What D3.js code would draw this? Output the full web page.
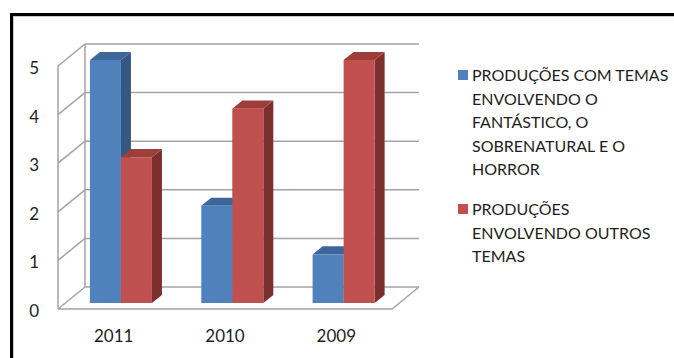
<!DOCTYPE html>
<html>
<head>
<meta charset="utf-8">
<script src="https://cdn.jsdelivr.net/npm/d3@7"></script>
<style>
  html, body { margin: 0; padding: 0; background: #fff; }
  svg { display: block; }
  text { font-family: Lato, "Open Sans", sans-serif; }
</style>
</head>
<body>
<script>
// ---- data ----
const categories = ["2011", "2010", "2009"];
const seriesKeys = ["fantastico", "outros"];
const fantastico = [5, 2, 1];
const outros = [3, 4, 5];
const yTicks = [0, 1, 2, 3, 4, 5];
const legendFantastico = ["PRODUÇÕES COM TEMAS", "ENVOLVENDO O", "FANTÁSTICO, O", "SOBRENATURAL E O", "HORROR"];
const legendOutros = ["PRODUÇÕES", "ENVOLVENDO OUTROS", "TEMAS"];

// ---- styles ----
const colors = {
  fantastico: { front: "#4f81bd", top: "#3d679a", side: "#355781" },
  outros: { front: "#c0504d", top: "#9e3d3a", side: "#7c302e" }
};
const gridColor = "#a3a3a3";
const textColor = "#1e1e1e";

const W = 674, H = 358;
const svg = d3.select("body").append("svg").attr("width", W).attr("height", H);

// frame border
svg.append("path").attr("d", "M11.5,358 V14.5 H674").attr("fill", "none")
  .attr("stroke", "#000").attr("stroke-width", 3);
svg.append("path").attr("d", "M13.5,358 V16.5 H674").attr("fill", "none")
  .attr("stroke", "#c8c8c8").attr("stroke-width", 1);

// ---- scales ----
const x0 = d3.scaleBand().domain(categories).range([58, 392]);
const x1 = d3.scaleBand().domain(seriesKeys).range([0, x0.bandwidth()]).paddingInner(0).paddingOuter(0.795);
const y = d3.scaleLinear().domain([0, 5]).range([309, 66]);
const DX = 27, DY = 22;
const proj = (x, v, z) => [x + z * DX, y(v) - z * DY];
const poly = pts => "M" + pts.map(p => p.join(",")).join("L") + "Z";

const g = svg.append("g");

// back wall gridlines
yTicks.forEach(v => {
  const a = proj(58, v, 1), b = proj(392, v, 1);
  g.append("line").attr("x1", a[0]).attr("y1", a[1]).attr("x2", b[0]).attr("y2", b[1])
    .attr("stroke", gridColor).attr("stroke-width", 1.5);
  // side wall diagonals
  const c = proj(58, v, 0);
  g.append("line").attr("x1", c[0]).attr("y1", c[1]).attr("x2", a[0]).attr("y2", a[1])
    .attr("stroke", gridColor).attr("stroke-width", 1.5);
});
// side wall verticals
[0, 1].forEach(z => {
  const a = proj(58, 0, z), b = proj(58, 5, z);
  g.append("line").attr("x1", a[0]).attr("y1", a[1]).attr("x2", b[0]).attr("y2", b[1])
    .attr("stroke", gridColor).attr("stroke-width", 1.5);
});
// floor front edge and right edge
{
  const a = proj(58, 0, 0), b = proj(392, 0, 0), c = proj(392, 0, 1);
  g.append("path").attr("d", "M" + a.join(",") + "L" + b.join(",") + "L" + c.join(","))
    .attr("fill", "none").attr("stroke", gridColor).attr("stroke-width", 1.5);
}

// ---- bars ----
const z0 = 0.27, z1 = 0.64;
const seriesVals = { fantastico, outros };
categories.forEach((cat, i) => {
  seriesKeys.forEach(key => {
    const v = seriesVals[key][i];
    const bx = x0(cat) + x1(key), bw = x1.bandwidth();
    const col = colors[key];
    // side
    g.append("path").attr("d", poly([proj(bx + bw, 0, z0), proj(bx + bw, v, z0), proj(bx + bw, v, z1), proj(bx + bw, 0, z1)]))
      .attr("fill", col.side);
    // top
    g.append("path").attr("d", poly([proj(bx, v, z0), proj(bx + bw, v, z0), proj(bx + bw, v, z1), proj(bx, v, z1)]))
      .attr("fill", col.top);
    // front
    g.append("path").attr("d", poly([proj(bx, 0, z0), proj(bx + bw, 0, z0), proj(bx + bw, v, z0), proj(bx, v, z0)]))
      .attr("fill", col.front);
  });
});

// ---- axes ----
const yAxis = d3.axisLeft(y).tickValues(yTicks).tickFormat(d3.format("d")).tickSize(0).tickPadding(19);
const ya = svg.append("g").attr("transform", "translate(58,2)").call(yAxis);
ya.select(".domain").remove();
ya.selectAll("text").attr("font-size", 17).attr("font-family", "Lato, 'Open Sans', sans-serif").attr("fill", textColor);

const xAxis = d3.axisBottom(x0).tickSize(0).tickPadding(21);
const xa = svg.append("g").attr("transform", "translate(0,309)").call(xAxis);
xa.select(".domain").remove();
xa.selectAll("text").attr("font-size", 17).attr("font-family", "Lato, 'Open Sans', sans-serif").attr("fill", textColor);

// ---- legend ----
const legend = svg.append("g");
const entries = [
  { key: "fantastico", lines: legendFantastico, base: 81 },
  { key: "outros", lines: legendOutros, base: 215 }
];
entries.forEach(e => {
  legend.append("rect").attr("x", 458).attr("y", e.base - 11).attr("width", 10).attr("height", 10)
    .attr("fill", colors[e.key].front);
  e.lines.forEach((t, j) => {
    legend.append("text").attr("x", 472).attr("y", e.base + j * 23.5)
      .attr("font-size", 16).attr("fill", textColor).text(t);
  });
});
</script>
</body>
</html>
